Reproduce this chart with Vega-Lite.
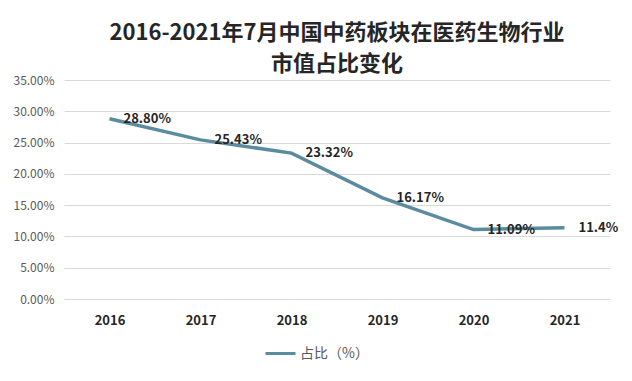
{
  "$schema": "https://vega.github.io/schema/vega-lite/v6.json",
  "width": 546,
  "height": 219,
  "autosize": {"type": "none"},
  "padding": {"left": 64, "top": 80, "right": 22, "bottom": 82},
  "background": "white",
  "config": {
    "view": {"stroke": null},
    "font": "Noto Sans CJK SC"
  },
  "title": {
    "text": ["2016-2021年7月中国中药板块在医药生物行业", "市值占比变化"],
    "fontSize": 22,
    "fontWeight": "bold",
    "color": "#262626",
    "lineHeight": 31,
    "anchor": "middle",
    "offset": -2
  },
  "data": {
    "values": [
      {"year": "2016", "value": 28.80, "label": "28.80%", "series": "占比（%）"},
      {"year": "2017", "value": 25.43, "label": "25.43%", "series": "占比（%）"},
      {"year": "2018", "value": 23.32, "label": "23.32%", "series": "占比（%）"},
      {"year": "2019", "value": 16.17, "label": "16.17%", "series": "占比（%）"},
      {"year": "2020", "value": 11.09, "label": "11.09%", "series": "占比（%）"},
      {"year": "2021", "value": 11.4, "label": "11.4%", "series": "占比（%）"}
    ]
  },
  "encoding": {
    "x": {
      "field": "year",
      "type": "ordinal",
      "scale": {"type": "point", "padding": 0.5},
      "axis": {
        "title": null,
        "labelAngle": 0,
        "domain": false,
        "ticks": false,
        "labelFontSize": 13,
        "labelFontWeight": "bold",
        "labelColor": "#262626",
        "labelPadding": 15
      }
    },
    "y": {
      "field": "value",
      "type": "quantitative",
      "scale": {"domain": [0, 35]},
      "axis": {
        "title": null,
        "values": [0, 5, 10, 15, 20, 25, 30, 35],
        "labelExpr": "format(datum.value, '.2f') + '%'",
        "domain": false,
        "ticks": false,
        "gridColor": "#d9d9d9",
        "labelFontSize": 12,
        "labelColor": "#595959",
        "labelPadding": 10
      }
    }
  },
  "layer": [
    {
      "mark": {"type": "line", "strokeWidth": 3.5},
      "encoding": {
        "color": {
          "field": "series",
          "type": "nominal",
          "scale": {"range": ["#5a8b9e"]},
          "legend": {
            "title": null,
            "orient": "none",
            "legendX": 200,
            "legendY": 257,
            "symbolType": "stroke",
            "symbolStrokeWidth": 3,
            "symbolSize": 900,
            "labelFontSize": 14,
            "labelColor": "#595959",
            "labelOffset": 3
          }
        }
      }
    },
    {
      "mark": {
        "type": "text",
        "align": "left",
        "baseline": "middle",
        "dx": 14,
        "fontSize": 13,
        "fontWeight": "bold",
        "color": "#262626"
      },
      "encoding": {"text": {"field": "label"}}
    }
  ]
}
